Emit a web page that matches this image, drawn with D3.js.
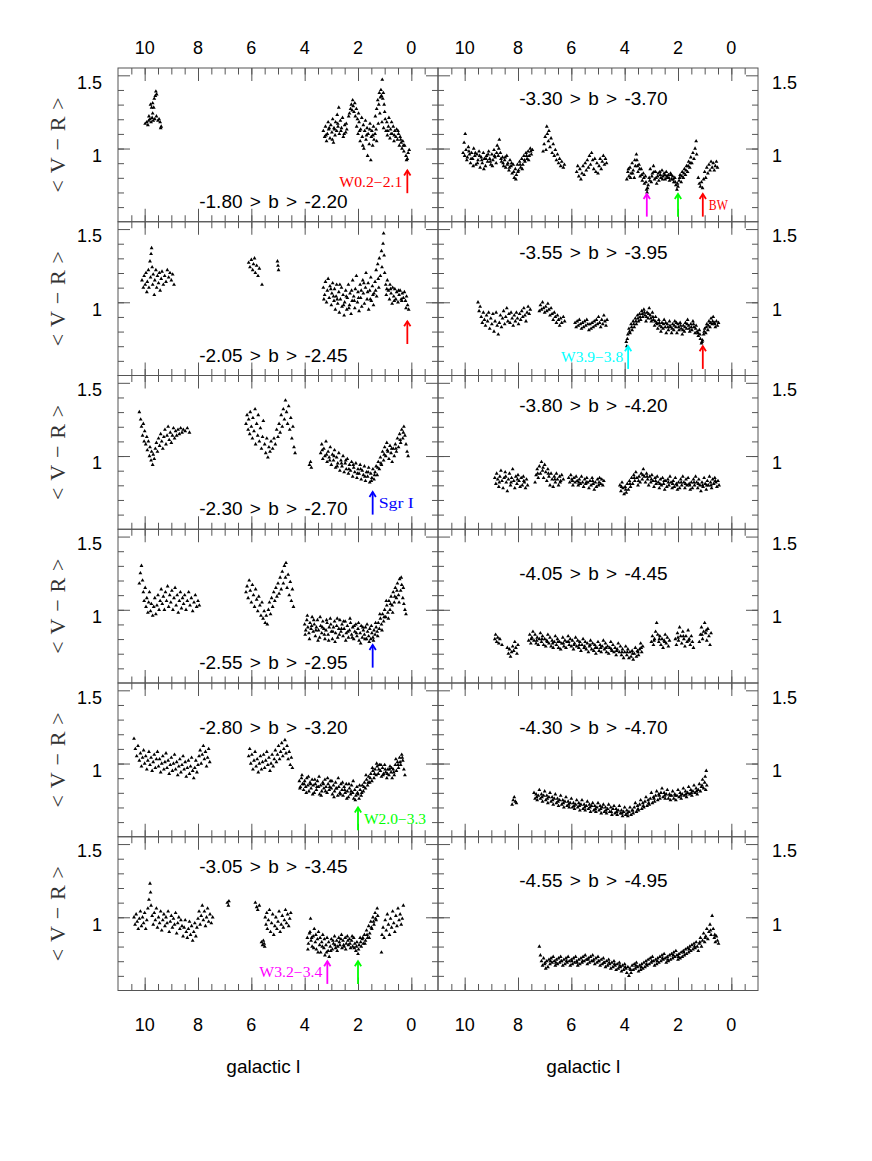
<!DOCTYPE html>
<html>
<head>
<meta charset="utf-8">
<script src="https://cdn.jsdelivr.net/npm/d3@7"></script>
<style>
  body { margin: 0; background: #fff; }
</style>
</head>
<body>
<div id="chart"></div>
<script>
// ---- data: <V-R> vs galactic l, one strip of latitude per panel ----
const titles = [
  '-1.80 > b > -2.20', '-2.05 > b > -2.45', '-2.30 > b > -2.70',
  '-2.55 > b > -2.95', '-2.80 > b > -3.20', '-3.05 > b > -3.45',
  '-3.30 > b > -3.70', '-3.55 > b > -3.95', '-3.80 > b > -4.20',
  '-4.05 > b > -4.45', '-4.30 > b > -4.70', '-4.55 > b > -4.95'
]
const xTickLabels = [10, 8, 6, 4, 2, 0]
const yTickLabels = [1.5, 1]

// -1.80 > b > -2.20
const p1 = [[9.98,1.17],[9.92,1.18],[9.88,1.16],[9.85,1.19],[9.80,1.20],[9.76,1.18],[9.72,1.21],[9.68,1.19],[9.62,1.20],[9.56,1.22],[9.50,1.19],[9.46,1.20],[9.42,1.18],[9.38,1.15],[9.40,1.14],[9.74,1.28],[9.78,1.30],[9.70,1.31],[9.66,1.28],[9.64,1.34],[9.60,1.36],[9.58,1.39],[9.55,1.37],[9.70,1.24],[9.84,1.22],
  [3.30,1.12],[3.25,1.08],[3.22,1.15],[3.18,1.05],[3.15,1.10],[3.12,1.18],[3.10,1.13],[3.05,1.07],[3.02,1.16],[2.98,1.11],[2.95,1.20],[2.92,1.04],[2.90,1.14],[2.86,1.09],[2.84,1.18],[2.80,1.12],[2.78,1.23],[2.75,1.15],[2.72,1.28],[2.70,1.10],[2.66,1.19],[2.62,1.14],[2.58,1.21],[2.55,1.08],[2.50,1.16],[2.46,1.11],[2.42,1.13],
  [2.35,1.22],[2.32,1.24],[2.28,1.27],[2.25,1.30],[2.22,1.26],[2.20,1.33],[2.18,1.29],[2.15,1.25],[2.12,1.31],[2.10,1.22],[2.06,1.27],[2.02,1.20],[1.98,1.24],
  [2.05,1.15],[2.00,1.10],[1.96,1.18],[1.92,1.05],[1.90,1.13],[1.86,1.21],[1.84,1.08],[1.80,1.16],[1.78,1.00],[1.75,1.12],[1.72,1.19],[1.70,1.06],[1.66,1.14],[1.64,0.95],[1.62,1.10],[1.58,1.03],[1.55,1.17],[1.52,0.92],[1.50,1.08],[1.48,1.12],[1.45,1.02],[1.42,1.15],[1.40,1.06],[1.36,1.10],[1.32,1.13],[1.30,1.05],
  [1.35,1.22],[1.30,1.27],[1.26,1.33],[1.22,1.30],[1.20,1.38],[1.16,1.35],[1.14,1.40],[1.12,1.36],[1.09,1.47],[1.07,1.34],[1.05,1.38],[1.02,1.30],[1.00,1.25],[0.98,1.20],[1.18,1.24],[1.10,1.18],[1.04,1.14],[1.24,1.17],
  [0.95,1.12],[0.92,1.18],[0.90,1.09],[0.86,1.15],[0.84,1.21],[0.80,1.07],[0.78,1.13],[0.74,1.18],[0.72,1.10],[0.68,1.15],[0.65,1.05],[0.62,1.12],[0.58,1.08],[0.55,1.13],[0.52,1.06],[0.48,1.10],[0.45,1.02],[0.42,1.08],[0.38,1.04],[0.35,1.00],[0.32,1.05],[0.28,0.98],[0.25,1.02],[0.20,0.95],[0.15,0.93],[0.12,0.97],[0.08,0.99],[0.18,0.92],
  [3.20,1.09],[3.08,1.14],[2.96,1.06],[2.88,1.13],[2.76,1.17],[2.64,1.12],[2.52,1.10],[2.44,1.17],[1.94,1.12],[1.82,1.02],[1.68,1.09],[1.56,1.13],[1.44,1.09],[0.88,1.12],[0.76,1.10],[0.64,1.09],[0.50,1.12],[0.40,1.06],[0.30,1.02]]

// -2.05 > b > -2.45
const p2 = [[10.10,1.15],[10.05,1.10],[10.02,1.18],[9.98,1.12],[9.95,1.20],[9.92,1.07],[9.90,1.14],[9.86,1.22],[9.84,1.10],[9.80,1.28],[9.78,1.17],[9.76,1.33],[9.74,1.37],[9.72,1.24],[9.70,1.12],[9.68,1.19],[9.64,1.05],[9.62,1.15],[9.58,1.22],[9.55,1.10],[9.52,1.18],[9.48,1.13],[9.45,1.20],[9.42,1.08],[9.38,1.16],[9.35,1.21],[9.30,1.12],[9.25,1.18],[9.20,1.14],[9.15,1.22],[9.10,1.17],[9.05,1.20],[9.00,1.15],[8.95,1.19],[8.90,1.12],
  [6.10,1.27],[6.05,1.24],[6.00,1.29],[5.95,1.22],[5.92,1.26],[5.88,1.30],[5.85,1.20],[5.80,1.25],[5.75,1.18],[5.70,1.23],[5.60,1.12],[5.02,1.28],[4.98,1.22],[5.00,1.25],
  [3.30,1.10],[3.25,1.05],[3.22,1.14],[3.18,1.00],[3.15,1.08],[3.12,1.16],[3.08,1.03],[3.05,1.11],[3.00,0.98],[2.98,1.06],[2.95,1.13],[2.90,1.01],[2.88,1.09],[2.85,0.95],[2.82,1.04],[2.80,1.12],[2.76,0.99],[2.72,1.07],[2.70,0.93],[2.66,1.02],[2.62,1.10],[2.60,0.97],[2.56,1.05],[2.52,0.91],[2.50,1.00],[2.46,1.08],[2.42,0.95],[2.40,1.03],[2.36,1.12],[2.32,0.98],[2.30,1.06],[2.26,0.92],[2.22,1.01],[2.20,1.15],[2.16,1.04],[2.12,0.96],[2.10,1.09],[2.06,1.18],[2.02,1.00],[2.00,1.07],[1.96,0.94],[1.92,1.12],[1.90,1.03],[1.86,0.97],[1.82,1.15],[1.80,1.06],[1.76,0.99],[1.72,1.10],[1.70,1.20],[1.66,1.02],[1.62,1.13],[1.60,0.95],[1.56,1.08],[1.52,1.17],[1.50,1.01],[1.46,1.11],[1.42,0.98],[1.40,1.06],[1.36,1.14],[1.32,1.22],[1.30,1.04],[1.26,1.26],[1.22,1.10],[1.20,1.30],[1.16,1.18],[1.12,1.35],[1.10,1.24],[1.06,1.40],[1.04,1.47],[1.02,1.32],[1.00,1.20],[0.96,1.12],[0.94,1.05],[0.90,1.15],[0.86,1.08],[0.82,1.02],[0.80,1.12],[0.76,1.06],[0.72,0.99],[0.70,1.10],[0.66,1.04],[0.62,1.09],[0.58,1.02],[0.55,1.07],[0.50,1.00],[0.46,1.05],[0.42,1.08],[0.38,1.02],[0.34,1.06],[0.30,1.03],[0.26,1.07],[0.22,1.01],[0.18,1.04],[0.14,0.98],[0.10,0.95],[0.20,0.96],
  [3.28,1.02],[3.02,1.09],[2.92,1.04],[2.78,1.02],[2.68,1.12],[2.54,0.98],[2.44,1.04],[2.34,0.96],[2.24,1.08],[2.14,1.01],[1.98,1.03],[1.88,1.08],[1.78,1.13],[1.64,1.07],[1.54,1.02],[1.44,1.05],[1.34,1.08],[1.24,1.16],[0.92,1.09],[0.78,1.09],[0.64,1.01],[0.48,1.08],[0.36,1.01]]

// -2.30 > b > -2.70
const p3 = [[10.20,1.30],[10.15,1.25],[10.12,1.20],[10.08,1.14],[10.05,1.22],[10.02,1.10],[10.00,1.17],[9.96,1.08],[9.92,1.13],[9.90,1.04],[9.86,1.10],[9.82,1.00],[9.80,1.06],[9.76,0.97],[9.74,1.03],[9.70,0.94],[9.68,1.01],[9.64,0.98],[9.60,1.05],[9.56,1.09],[9.52,1.03],[9.48,1.12],[9.44,1.07],[9.40,1.15],[9.36,1.10],[9.32,1.05],[9.28,1.13],[9.24,1.18],[9.20,1.08],[9.16,1.14],[9.12,1.20],[9.08,1.11],[9.04,1.16],[9.00,1.09],[8.96,1.14],[8.92,1.19],[8.88,1.12],[8.84,1.17],[8.80,1.14],[8.75,1.18],[8.70,1.15],[8.65,1.19],[8.60,1.16],[8.55,1.18],[8.48,1.17],[8.40,1.19],[8.32,1.16],
  [6.20,1.22],[6.16,1.28],[6.12,1.18],[6.10,1.25],[6.06,1.15],[6.04,1.30],[6.00,1.20],[5.96,1.12],[5.94,1.26],[5.90,1.17],[5.86,1.32],[5.84,1.08],[5.80,1.22],[5.76,1.14],[5.74,1.28],[5.70,1.10],[5.66,1.19],[5.62,1.05],[5.58,1.13],[5.55,1.24],[5.50,1.08],[5.46,1.02],[5.42,1.12],[5.38,0.99],[5.34,1.06],[5.30,1.03],[5.26,1.10],[5.20,1.05],[5.15,1.12],[5.10,1.08],[5.05,1.18],[5.00,1.13],[4.96,1.22],[4.92,1.16],[4.88,1.28],[4.84,1.20],[4.80,1.32],[4.76,1.25],[4.72,1.38],[4.68,1.30],[4.64,1.22],[4.60,1.34],[4.56,1.18],[4.52,1.26],[4.48,1.12],[4.44,1.20],[4.40,1.06],[4.36,1.02],
  [3.82,0.94],[3.78,0.96],[3.75,0.92],
  [3.40,1.02],[3.36,1.08],[3.32,0.98],[3.28,1.05],[3.24,1.00],[3.20,1.10],[3.16,0.96],[3.12,1.03],[3.08,0.99],[3.04,1.06],[3.00,0.94],[2.96,1.01],[2.92,0.97],[2.88,1.04],[2.84,0.92],[2.80,0.99],[2.76,0.95],[2.72,1.02],[2.68,0.90],[2.64,0.97],[2.60,0.93],[2.56,1.00],[2.52,0.89],[2.48,0.95],[2.44,0.91],[2.40,0.98],[2.36,0.88],[2.32,0.94],[2.28,0.90],[2.24,0.96],[2.20,0.86],[2.16,0.92],[2.12,0.89],[2.08,0.95],[2.04,0.85],[2.00,0.91],[1.96,0.88],[1.92,0.94],[1.88,0.84],[1.84,0.90],[1.80,0.87],[1.76,0.93],[1.72,0.83],[1.68,0.89],[1.64,0.86],[1.60,0.92],[1.56,0.82],[1.52,0.88],[1.48,0.85],[1.44,0.91],[1.40,0.84],[1.36,0.89],[1.32,0.93],[1.28,0.87],[1.24,0.96],[1.20,0.91],[1.16,0.99],[1.12,0.94],[1.08,1.03],[1.04,0.97],[1.00,1.06],[0.96,1.00],[0.92,1.09],[0.88,1.03],[0.84,0.98],[0.80,1.07],[0.76,1.02],[0.72,0.96],[0.68,1.05],[0.64,1.00],[0.60,1.08],[0.56,1.03],[0.52,1.12],[0.48,1.06],[0.44,1.15],[0.40,1.09],[0.36,1.18],[0.32,1.12],[0.28,1.20],[0.24,1.14],[0.20,1.08],[0.16,1.03],[0.12,1.00],
  [3.34,1.04],[3.18,1.01],[3.06,0.97],[2.90,1.00],[2.78,0.93],[2.62,0.95],[2.46,0.97],[2.34,0.91],[2.18,0.94],[2.02,0.88],[1.90,0.91],[1.74,0.86],[1.62,0.89],[1.50,0.83],[1.38,0.87],[1.26,0.92],[1.14,0.95],[1.02,1.01],[0.90,1.04],[0.74,1.05],[0.58,1.05],[0.42,1.11],[0.30,1.16]]

// -2.55 > b > -2.95
const p4 = [[10.20,1.18],[10.16,1.25],[10.12,1.30],[10.08,1.20],[10.05,1.12],[10.02,1.06],[9.98,1.15],[9.95,1.02],[9.92,1.08],[9.88,0.98],[9.85,1.05],[9.82,1.12],[9.78,0.99],[9.75,1.04],[9.70,0.96],[9.66,1.02],[9.62,1.08],[9.58,0.97],[9.54,1.03],[9.50,1.10],[9.46,1.00],[9.42,1.06],[9.38,1.14],[9.34,1.04],[9.30,1.09],[9.26,1.00],[9.22,1.12],[9.18,1.06],[9.14,1.16],[9.10,1.02],[9.06,1.10],[9.02,1.05],[8.98,1.13],[8.94,1.00],[8.90,1.08],[8.86,1.15],[8.82,1.03],[8.78,1.10],[8.74,0.98],[8.70,1.06],[8.66,1.12],[8.62,1.01],[8.58,1.08],[8.54,1.04],[8.50,1.10],[8.45,1.00],[8.40,1.06],[8.35,1.12],[8.30,1.03],[8.25,1.08],[8.20,0.99],[8.15,1.05],[8.10,1.10],[8.05,1.02],[8.00,1.06],[7.95,1.03],
  [6.20,1.12],[6.16,1.16],[6.12,1.08],[6.08,1.20],[6.04,1.13],[6.00,1.05],[5.96,1.17],[5.92,1.10],[5.88,1.02],[5.84,1.14],[5.80,1.07],[5.76,0.99],[5.72,1.09],[5.68,1.03],[5.64,0.96],[5.60,1.05],[5.56,0.94],[5.52,0.99],[5.48,0.91],[5.44,0.96],[5.40,0.90],[5.36,1.00],[5.32,1.05],[5.28,0.97],[5.24,1.08],[5.20,1.02],[5.16,1.12],[5.12,1.06],[5.08,1.15],[5.04,1.09],[5.00,1.18],[4.96,1.11],[4.92,1.22],[4.88,1.14],[4.84,1.26],[4.80,1.18],[4.76,1.30],[4.72,1.22],[4.70,1.32],[4.66,1.15],[4.62,1.24],[4.58,1.10],[4.54,1.19],[4.50,1.06],[4.46,1.14],[4.42,1.02],
  [4.00,0.90],[3.96,0.86],[3.92,0.93],[3.88,0.88],[3.84,0.84],[3.80,0.91],[3.76,0.87],[3.72,0.95],[3.68,0.85],[3.64,0.90],[3.60,0.82],[3.56,0.88],[3.52,0.93],[3.48,0.86],[3.44,0.81],[3.40,0.89],[3.36,0.84],[3.32,0.92],[3.28,0.87],[3.24,0.80],[3.20,0.86],[3.16,0.91],[3.12,0.83],[3.08,0.88],[3.04,0.94],[3.00,0.85],[2.96,0.80],[2.92,0.88],[2.88,0.92],[2.84,0.84],[2.80,0.89],[2.76,0.81],[2.72,0.87],[2.68,0.93],[2.64,0.85],[2.60,0.90],[2.56,0.82],[2.52,0.87],[2.48,0.92],[2.44,0.84],[2.40,0.89],[2.36,0.81],[2.32,0.86],[2.28,0.91],[2.24,0.83],[2.20,0.88],[2.16,0.80],[2.12,0.85],[2.08,0.90],[2.04,0.82],[2.00,0.87],[1.96,0.79],[1.92,0.84],[1.88,0.89],[1.84,0.81],[1.80,0.86],[1.76,0.83],[1.72,0.88],[1.68,0.80],[1.64,0.85],[1.60,0.82],[1.56,0.87],[1.52,0.80],[1.48,0.84],[1.44,0.81],[1.40,0.86],[1.36,0.83],[1.32,0.88],[1.28,0.85],[1.24,0.91],[1.20,0.87],[1.16,0.94],[1.12,0.90],[1.08,0.97],[1.04,0.92],[1.00,1.00],[0.96,0.95],[0.92,1.03],[0.88,0.98],[0.84,1.06],[0.80,1.00],[0.76,1.09],[0.72,1.03],[0.68,1.12],[0.64,1.05],[0.60,1.15],[0.56,1.08],[0.52,1.18],[0.48,1.10],[0.44,1.21],[0.40,1.13],[0.36,1.17],[0.32,1.08],[0.28,1.04],[0.24,1.00],[0.20,0.97],
  [3.98,0.83],[3.90,0.96],[3.82,0.80],[3.74,0.89],[3.66,0.93],[3.58,0.86],[3.50,0.79],[3.42,0.95],[3.34,0.88],[3.26,0.83],[3.18,0.93],[3.10,0.79],[3.02,0.90],[2.94,0.85],[2.86,0.78],[2.78,0.94],[2.70,0.83],[2.62,0.87],[2.54,0.92],[2.46,0.79],[2.38,0.85],[2.30,0.94],[2.22,0.81],[2.14,0.89],[2.06,0.84],[1.98,0.91],[1.90,0.77],[1.82,0.88],[1.74,0.80],[1.66,0.90],[1.58,0.78],[1.50,0.89],[1.42,0.79],[1.34,0.91],[1.26,0.82],[1.18,0.97],[1.10,0.86],[1.02,0.95],[0.94,1.06],[0.86,0.94],[0.78,1.04],[0.70,0.98],[0.62,1.09],[0.54,1.13],[0.46,1.05],[0.38,1.22],[0.30,1.15]]

// -2.80 > b > -3.20
const p5 = [[10.40,1.17],[10.35,1.10],[10.30,1.05],[10.25,1.12],[10.20,1.02],[10.16,1.07],[10.12,0.98],[10.08,1.04],[10.04,1.09],[10.00,1.00],[9.96,1.05],[9.92,0.96],[9.88,1.02],[9.84,1.08],[9.80,0.99],[9.76,1.04],[9.72,0.95],[9.68,1.01],[9.64,1.06],[9.60,0.97],[9.56,1.03],[9.52,1.08],[9.48,0.98],[9.44,1.03],[9.40,0.94],[9.36,1.00],[9.32,1.05],[9.28,0.96],[9.24,1.01],[9.20,1.07],[9.16,0.97],[9.12,1.02],[9.08,0.93],[9.04,0.99],[9.00,1.04],[8.96,0.95],[8.92,1.00],[8.88,1.06],[8.84,0.96],[8.80,1.01],[8.76,0.92],[8.72,0.98],[8.68,1.03],[8.64,0.94],[8.60,0.99],[8.56,1.05],[8.52,0.96],[8.48,1.01],[8.44,0.91],[8.40,0.97],[8.36,1.02],[8.32,0.93],[8.28,0.98],[8.24,1.04],[8.20,0.95],[8.16,0.90],[8.12,0.97],[8.08,1.02],[8.04,0.94],[8.00,0.99],[7.96,1.05],[7.92,1.09],[7.88,1.00],[7.84,1.06],[7.80,1.12],[7.76,1.03],[7.72,1.08],[7.68,0.98],[7.64,1.04],[7.60,1.10],[7.56,1.01],
  [6.10,1.05],[6.06,1.10],[6.02,1.00],[5.98,1.06],[5.94,0.96],[5.90,1.02],[5.86,1.08],[5.82,0.98],[5.78,1.03],[5.74,0.94],[5.70,1.00],[5.66,1.05],[5.62,0.96],[5.58,1.01],[5.54,1.06],[5.50,0.97],[5.46,1.02],[5.42,1.08],[5.38,0.99],[5.34,1.04],[5.30,0.95],[5.26,1.00],[5.22,1.06],[5.18,0.98],[5.14,1.03],[5.10,1.09],[5.06,1.01],[5.02,1.06],[4.98,1.12],[4.94,1.03],[4.90,1.08],[4.86,1.14],[4.82,1.05],[4.78,1.10],[4.74,1.16],[4.70,1.07],[4.66,1.12],[4.62,1.03],[4.58,1.08],[4.54,0.99],[4.50,1.04],[4.46,0.97],
  [4.20,0.88],[4.16,0.84],[4.12,0.90],[4.08,0.86],[4.04,0.82],[4.00,0.88],[3.96,0.84],[3.92,0.90],[3.88,0.85],[3.84,0.81],[3.80,0.87],[3.76,0.83],[3.72,0.89],[3.68,0.85],[3.64,0.80],[3.60,0.86],[3.56,0.82],[3.52,0.88],[3.48,0.84],[3.44,0.79],[3.40,0.85],[3.36,0.81],[3.32,0.87],[3.28,0.83],[3.24,0.89],[3.20,0.84],[3.16,0.80],[3.12,0.86],[3.08,0.82],[3.04,0.88],[3.00,0.83],[2.96,0.79],[2.92,0.85],[2.88,0.81],[2.84,0.87],[2.80,0.83],[2.76,0.78],[2.72,0.84],[2.68,0.80],[2.64,0.86],[2.60,0.82],[2.56,0.78],[2.52,0.84],[2.48,0.80],[2.44,0.86],[2.40,0.81],[2.36,0.77],[2.32,0.83],[2.28,0.79],[2.24,0.85],[2.20,0.80],[2.16,0.76],[2.12,0.82],[2.08,0.78],[2.04,0.84],[2.00,0.79],[1.96,0.76],[1.92,0.82],[1.88,0.78],[1.84,0.85],[1.80,0.81],[1.76,0.87],[1.72,0.83],[1.68,0.89],[1.64,0.85],[1.60,0.91],[1.56,0.87],[1.52,0.93],[1.48,0.88],[1.44,0.95],[1.40,0.90],[1.36,0.96],[1.32,0.92],[1.28,0.98],[1.24,0.93],[1.20,0.99],[1.16,0.95],[1.12,0.91],[1.08,0.97],[1.04,0.93],[1.00,0.99],[0.96,0.94],[0.92,0.90],[0.88,0.96],[0.84,0.92],[0.80,0.98],[0.76,0.94],[0.72,0.90],[0.68,0.96],[0.64,0.92],[0.60,0.99],[0.56,0.95],[0.52,1.01],[0.48,0.97],[0.44,1.04],[0.40,0.99],[0.36,1.06],[0.32,1.02],[0.28,0.96],[0.24,0.92],
  [4.18,0.83],[4.10,0.92],[4.02,0.86],[3.94,0.80],[3.86,0.91],[3.78,0.86],[3.70,0.79],[3.62,0.89],[3.54,0.84],[3.46,0.91],[3.38,0.78],[3.30,0.86],[3.22,0.81],[3.14,0.90],[3.06,0.84],[2.98,0.88],[2.90,0.77],[2.82,0.83],[2.74,0.90],[2.66,0.79],[2.58,0.87],[2.50,0.82],[2.42,0.76],[2.34,0.86],[2.26,0.81],[2.18,0.88],[2.10,0.75],[2.02,0.80],[1.94,0.85],[1.86,0.80],[1.78,0.84],[1.70,0.92],[1.62,0.87],[1.54,0.90],[1.46,0.97],[1.38,0.93],[1.30,1.00],[1.22,0.96],[1.14,0.99],[1.06,0.92],[0.98,0.96],[0.90,0.93],[0.82,0.96],[0.74,0.97],[0.66,0.94],[0.58,1.03],[0.50,0.99],[0.42,1.01],[0.34,1.04]]

// -3.05 > b > -3.45
const p6 = [[10.40,1.00],[10.36,0.95],[10.32,1.02],[10.28,0.97],[10.24,0.92],[10.20,0.99],[10.16,1.04],[10.12,0.94],[10.08,1.00],[10.04,0.96],[10.00,1.03],[9.96,0.92],[9.92,0.98],[9.88,1.06],[9.84,1.12],[9.80,1.23],[9.78,1.17],[9.76,1.08],[9.72,1.01],[9.68,0.95],[9.64,1.03],[9.60,0.98],[9.56,1.06],[9.52,0.93],[9.48,1.00],[9.44,0.96],[9.40,1.04],[9.36,0.91],[9.32,0.98],[9.28,1.02],[9.24,0.94],[9.20,1.00],[9.16,0.96],[9.12,1.04],[9.08,0.90],[9.04,0.97],[9.00,1.01],[8.96,0.93],[8.92,0.99],[8.88,0.95],[8.84,1.03],[8.80,0.89],[8.76,0.96],[8.72,1.00],[8.68,0.92],[8.64,0.98],[8.60,0.94],[8.56,0.87],[8.52,0.93],[8.48,0.98],[8.44,0.90],[8.40,0.86],[8.36,0.92],[8.32,0.97],[8.28,0.88],[8.24,0.94],[8.20,0.84],[8.16,0.90],[8.12,0.96],[8.08,0.87],[8.04,0.93],[8.00,0.99],[7.96,1.04],[7.92,0.95],[7.88,1.01],[7.84,1.08],[7.80,0.98],[7.76,1.04],[7.72,0.94],[7.68,1.00],[7.64,1.06],[7.60,0.97],[7.55,1.02],[7.50,0.96],[7.45,1.00],
  [6.90,1.10],[6.86,1.08],[6.84,1.11],
  [5.85,1.10],[5.80,1.07],[5.76,1.05],[5.70,1.08],[5.62,0.83],[5.58,0.81],[5.55,0.84],[5.52,0.82],[5.50,0.80],[5.48,1.00],[5.45,0.95],[5.42,1.03],[5.40,0.92],[5.36,0.98],[5.32,1.05],[5.28,0.90],[5.24,0.96],[5.20,1.02],[5.16,0.88],[5.12,0.94],[5.08,1.00],[5.04,0.92],[5.00,0.97],[4.96,1.04],[4.92,0.90],[4.88,0.95],[4.84,1.01],[4.80,0.93],[4.76,0.98],[4.72,1.05],[4.68,0.96],[4.64,1.02],[4.60,0.94],[4.56,0.99],[4.52,1.03],
  [3.90,0.86],[3.86,0.82],[3.82,0.89],[3.78,0.99],[3.76,0.84],[3.72,0.80],[3.68,0.87],[3.64,0.92],[3.60,0.83],[3.56,0.78],[3.52,0.85],[3.48,0.90],[3.44,0.81],[3.40,0.76],[3.36,0.83],[3.32,0.88],[3.28,0.79],[3.24,0.74],[3.20,0.81],[3.16,0.86],[3.12,0.77],[3.08,0.73],[3.04,0.80],[3.00,0.85],[2.96,0.78],[2.92,0.82],[2.88,0.87],[2.84,0.79],[2.80,0.84],[2.76,0.80],[2.72,0.86],[2.68,0.81],[2.64,0.85],[2.60,0.79],[2.56,0.84],[2.52,0.80],[2.48,0.86],[2.44,0.82],[2.40,0.87],[2.36,0.81],[2.32,0.85],[2.28,0.79],[2.24,0.84],[2.20,0.80],[2.16,0.86],[2.12,0.82],[2.08,0.77],[2.04,0.83],[2.00,0.75],[1.96,0.81],[1.92,0.86],[1.88,0.80],[1.84,0.85],[1.80,0.82],[1.76,0.88],[1.72,0.84],[1.68,0.91],[1.64,0.86],[1.60,0.94],[1.56,0.89],[1.52,0.97],[1.48,0.92],[1.44,1.00],[1.40,0.95],[1.36,1.03],[1.32,0.98],[1.28,1.06],[1.26,1.01],
  [1.12,0.76],[1.10,0.88],[1.06,0.93],[1.02,0.86],[0.98,0.98],[0.94,0.91],[0.90,1.02],[0.86,0.95],[0.82,0.88],[0.78,0.99],[0.74,0.93],[0.70,1.04],[0.66,0.96],[0.62,0.90],[0.58,1.01],[0.54,0.94],[0.50,1.06],[0.46,0.98],[0.42,1.02],[0.38,0.95],[0.34,0.99],[0.30,1.08],
  [3.88,0.78],[3.80,0.90],[3.74,0.86],[3.66,0.79],[3.58,0.88],[3.50,0.76],[3.42,0.86],[3.34,0.80],[3.26,0.85],[3.18,0.76],[3.10,0.83],[3.02,0.77],[2.94,0.84],[2.86,0.81],[2.78,0.77],[2.70,0.83],[2.62,0.88],[2.54,0.81],[2.46,0.78],[2.38,0.84],[2.30,0.82],[2.22,0.87],[2.14,0.79],[2.06,0.80],[1.98,0.78],[1.90,0.83],[1.82,0.86],[1.74,0.82],[1.66,0.88],[1.58,0.86],[1.50,0.93],[1.42,0.97],[1.34,0.99]]

// -3.30 > b > -3.70
const p7 = [[10.06,0.97],[10.02,1.04],[9.98,1.10],[9.95,0.99],[9.90,0.94],[9.86,1.01],[9.82,0.96],[9.78,0.90],[9.74,0.97],[9.70,0.93],[9.66,1.00],[9.62,0.95],[9.58,0.89],[9.54,0.96],[9.50,0.92],[9.46,0.98],[9.42,0.87],[9.38,0.94],[9.34,0.90],[9.30,0.97],[9.26,0.93],[9.22,0.88],[9.18,0.95],[9.14,0.91],[9.10,0.98],[9.06,0.93],[9.02,0.89],[8.98,0.96],[8.94,0.92],[8.90,0.99],[8.86,0.94],[8.82,0.90],[8.78,1.02],[8.74,0.95],[8.70,1.06],[8.66,0.97],[8.62,0.91],[8.58,0.94],[8.54,0.88],[8.50,0.92],[8.46,0.87],[8.42,0.95],[8.38,0.90],[8.34,0.85],[8.30,0.92],[8.26,0.88],[8.22,0.83],[8.18,0.89],[8.14,0.80],[8.10,0.86],[8.06,0.82],[8.02,0.89],[7.98,0.85],[7.94,0.91],[7.90,0.87],[7.86,0.93],[7.82,0.89],[7.78,0.95],[7.74,0.91],[7.70,0.97],[7.66,0.93],[7.62,0.98],[7.58,0.95],[7.54,1.00],[7.50,0.96],[7.46,0.99],
  [7.06,0.98],[7.02,1.03],[6.98,1.08],[6.95,0.99],[6.92,1.15],[6.90,1.10],[6.86,1.05],[6.84,1.12],[6.80,1.01],[6.76,1.07],[6.72,0.97],[6.68,1.03],[6.64,0.95],[6.60,0.99],[6.56,0.92],[6.52,0.96],[6.48,0.90],[6.44,0.93],[6.40,0.88],[6.36,0.91],[6.30,0.87],[6.26,0.89],
  [5.80,0.84],[5.76,0.88],[5.72,0.81],[5.68,0.86],[5.64,0.79],[5.60,0.83],[5.56,0.88],[5.52,0.82],[5.48,0.90],[5.44,0.85],[5.40,0.92],[5.36,0.87],[5.32,0.95],[5.28,0.89],[5.24,0.97],[5.20,0.92],[5.16,0.86],[5.12,0.93],[5.08,0.84],[5.04,0.90],[5.00,0.83],[4.96,0.88],[4.92,0.93],[4.88,0.86],[4.84,0.91],[4.80,0.95],[4.76,0.89],[4.72,0.93],[4.68,0.90],
  [3.92,0.79],[3.88,0.84],[3.84,0.81],[3.80,0.87],[3.76,0.83],[3.72,0.90],[3.68,0.85],[3.64,0.80],[3.60,0.88],[3.56,0.96],[3.54,0.92],[3.50,0.84],[3.46,0.89],[3.42,0.81],[3.38,0.86],[3.34,0.78],[3.30,0.83],[3.26,0.76],[3.22,0.81],[3.18,0.72],[3.16,0.70],[3.12,0.75],[3.08,0.80],[3.04,0.86],[3.00,0.77],[2.96,0.83],[2.92,0.88],[2.88,0.79],[2.84,0.84],[2.80,0.76],[2.76,0.81],[2.72,0.78],
  [2.68,0.84],[2.64,0.80],[2.60,0.85],[2.56,0.81],[2.52,0.83],[2.48,0.79],[2.44,0.84],[2.40,0.80],[2.36,0.82],[2.32,0.78],[2.28,0.83],[2.24,0.79],[2.20,0.81],[2.16,0.77],[2.12,0.80],[2.08,0.75],[2.04,0.72],[2.00,0.74],[1.96,0.78],[1.92,0.82],[1.88,0.77],[1.84,0.84],[1.80,0.80],[1.76,0.86],[1.72,0.82],[1.68,0.88],[1.64,0.84],[1.60,0.91],[1.56,0.87],[1.52,0.94],[1.48,0.90],[1.44,0.97],[1.40,0.93],[1.36,1.00],[1.32,1.05],[1.30,0.96],
  [1.24,0.80],[1.20,0.76],[1.16,0.74],[1.12,0.77],[1.08,0.73],[1.04,0.79],[1.00,0.84],[0.96,0.80],[0.92,0.87],[0.88,0.83],[0.84,0.89],[0.80,0.85],[0.76,0.91],[0.72,0.87],[0.68,0.90],[0.64,0.85],[0.60,0.88],[0.56,0.91],[0.52,0.87],
  [10.00,0.95],[9.92,0.92],[9.84,0.98],[9.76,0.93],[9.68,0.88],[9.60,0.97],[9.52,0.90],[9.44,0.95],[9.36,0.92],[9.28,0.86],[9.20,0.93],[9.12,0.96],[9.04,0.91],[8.96,0.88],[8.88,0.95],[8.80,0.97],[8.72,1.00],[8.64,0.93],[8.56,0.90],[8.48,0.94],[8.40,0.89],[8.32,0.87],[8.24,0.90],[8.16,0.84],[8.08,0.79],[8.00,0.84],[7.92,0.89],[7.84,0.86],[7.76,0.92],[7.68,0.95],[7.60,0.92],[7.52,0.98],
  [3.86,0.86],[3.78,0.80],[3.70,0.83],[3.62,0.92],[3.52,0.88],[3.44,0.86],[3.36,0.82],[3.28,0.80],[3.20,0.77],[3.14,0.73],[3.06,0.78],[2.98,0.81],[2.90,0.84],[2.82,0.80],[2.74,0.83],[2.66,0.82],[2.58,0.79],[2.50,0.82],[2.42,0.81],[2.34,0.80],[2.26,0.82],[2.18,0.79],[2.10,0.77],[2.02,0.76],[1.94,0.80],[1.86,0.81],[1.78,0.83],[1.70,0.85],[1.62,0.88],[1.54,0.90]]

// -3.55 > b > -3.95
const p8 = [[9.50,1.00],[9.46,0.94],[9.42,0.97],[9.38,0.90],[9.34,0.86],[9.30,0.93],[9.26,0.88],[9.22,0.84],[9.18,0.91],[9.14,0.87],[9.10,0.93],[9.06,0.82],[9.02,0.89],[8.98,0.85],[8.94,0.92],[8.90,0.80],[8.86,0.87],[8.82,0.93],[8.78,0.84],[8.74,0.78],[8.70,0.86],[8.66,0.91],[8.62,0.83],[8.58,0.89],[8.54,0.94],[8.50,0.85],[8.46,0.90],[8.42,0.96],[8.38,0.87],[8.34,0.92],[8.30,0.86],[8.26,0.93],[8.22,0.89],[8.18,0.84],[8.14,0.91],[8.10,0.87],[8.06,0.93],[8.02,0.89],[7.98,0.85],[7.94,0.92],[7.90,0.88],[7.86,0.94],[7.82,0.90],[7.78,0.96],[7.74,0.91],[7.70,0.87],[7.66,0.93],[7.62,0.97],[7.58,0.92],[7.54,0.95],
  [7.20,0.94],[7.16,0.98],[7.12,0.95],[7.08,1.00],[7.04,0.96],[7.00,0.93],[6.96,0.97],[6.92,0.94],[6.88,0.99],[6.84,0.95],[6.80,0.91],[6.76,0.96],[6.72,0.92],[6.68,0.88],[6.64,0.93],[6.60,0.90],[6.56,0.86],[6.52,0.91],[6.48,0.88],[6.44,0.84],[6.40,0.89],[6.36,0.86],[6.30,0.90],[6.25,0.87],
  [5.86,0.86],[5.82,0.83],[5.78,0.87],[5.74,0.84],[5.70,0.88],[5.66,0.85],[5.62,0.82],[5.58,0.86],[5.54,0.83],[5.50,0.87],[5.46,0.84],[5.42,0.88],[5.38,0.85],[5.34,0.81],[5.30,0.85],[5.26,0.82],[5.22,0.86],[5.18,0.83],[5.14,0.87],[5.10,0.84],[5.06,0.88],[5.02,0.85],[4.98,0.90],[4.94,0.86],[4.90,0.83],[4.86,0.88],[4.82,0.85],[4.78,0.91],[4.74,0.87],[4.70,0.84],[4.66,0.88],
  [3.94,0.73],[3.92,0.70],[3.90,0.75],[3.88,0.78],[3.84,0.82],[3.80,0.79],[3.76,0.85],[3.72,0.81],[3.68,0.87],[3.64,0.83],[3.60,0.89],[3.56,0.85],[3.52,0.91],[3.48,0.87],[3.44,0.92],[3.40,0.88],[3.36,0.94],[3.32,0.90],[3.28,0.95],[3.24,0.91],[3.20,0.87],[3.16,0.93],[3.12,0.89],[3.08,0.96],[3.04,0.91],[3.00,0.87],[2.96,0.93],[2.92,0.88],[2.88,0.84],[2.84,0.90],[2.80,0.86],[2.76,0.82],[2.72,0.88],[2.68,0.84],[2.64,0.80],[2.60,0.86],[2.56,0.82],[2.52,0.88],[2.48,0.83],[2.44,0.79],[2.40,0.85],[2.36,0.81],[2.32,0.87],[2.28,0.83],[2.24,0.79],[2.20,0.85],[2.16,0.81],[2.12,0.87],[2.08,0.83],[2.04,0.79],[2.00,0.85],[1.96,0.81],[1.92,0.86],[1.88,0.82],[1.84,0.78],[1.80,0.84],[1.76,0.80],[1.72,0.86],[1.68,0.82],[1.64,0.88],[1.60,0.84],[1.56,0.80],[1.52,0.85],[1.48,0.81],[1.44,0.87],[1.40,0.83],[1.36,0.79],[1.32,0.84],[1.28,0.80],[1.24,0.77],[1.20,0.81],[1.16,0.75],[1.12,0.72],[1.08,0.74],[1.04,0.78],[1.00,0.82],[0.96,0.79],[0.92,0.85],[0.88,0.81],[0.84,0.87],[0.80,0.83],[0.76,0.89],[0.72,0.85],[0.68,0.90],[0.64,0.86],[0.60,0.83],[0.56,0.87],[0.52,0.84],[0.48,0.86],
  [3.82,0.80],[3.74,0.83],[3.66,0.85],[3.58,0.87],[3.50,0.89],[3.42,0.90],[3.34,0.92],[3.26,0.93],[3.18,0.90],[3.10,0.92],[3.02,0.89],[2.94,0.90],[2.86,0.87],[2.78,0.85],[2.70,0.86],[2.62,0.83],[2.54,0.85],[2.46,0.86],[2.38,0.83],[2.30,0.84],[2.22,0.82],[2.14,0.84],[2.06,0.86],[1.98,0.83],[1.90,0.84],[1.82,0.81],[1.74,0.83],[1.66,0.85],[1.58,0.82],[1.50,0.83],[1.42,0.85],[1.34,0.82],[1.26,0.79],[1.18,0.78],[1.10,0.73],[1.02,0.80],[0.94,0.83],[0.86,0.84],[0.78,0.86],[0.70,0.87],[0.62,0.85]]

// -3.80 > b > -4.20
const p9 = [[8.87,0.85],[8.83,0.81],[8.80,0.88],[8.76,0.84],[8.72,0.79],[8.68,0.86],[8.64,0.90],[8.60,0.83],[8.56,0.78],[8.52,0.85],[8.48,0.89],[8.44,0.82],[8.40,0.76],[8.36,0.84],[8.32,0.88],[8.28,0.80],[8.24,0.85],[8.20,0.91],[8.16,0.83],[8.12,0.78],[8.08,0.86],[8.04,0.81],[8.00,0.87],[7.96,0.83],[7.92,0.79],[7.88,0.85],[7.84,0.80],[7.80,0.86],[7.76,0.82],[7.72,0.78],[7.68,0.84],[7.64,0.80],
  [7.36,0.82],[7.32,0.87],[7.28,0.91],[7.24,0.85],[7.20,0.93],[7.16,0.88],[7.12,0.96],[7.08,0.90],[7.04,0.85],[7.00,0.94],[6.96,0.89],[6.92,0.83],[6.88,0.91],[6.84,0.86],[6.80,0.80],[6.76,0.88],[6.72,0.84],[6.68,0.79],[6.64,0.86],[6.60,0.82],[6.56,0.88],[6.52,0.84],[6.48,0.80],[6.44,0.86],[6.40,0.83],[6.36,0.87],[6.30,0.84],
  [6.10,0.85],[6.06,0.82],[6.02,0.87],[5.98,0.84],[5.94,0.80],[5.90,0.85],[5.86,0.82],[5.82,0.86],[5.78,0.83],[5.74,0.80],[5.70,0.84],[5.66,0.81],[5.62,0.86],[5.58,0.82],[5.54,0.79],[5.50,0.84],[5.46,0.81],[5.42,0.85],[5.38,0.82],[5.34,0.78],[5.30,0.83],[5.26,0.80],[5.22,0.85],[5.18,0.81],[5.14,0.77],[5.10,0.82],[5.06,0.79],[5.02,0.84],[4.98,0.80],[4.94,0.85],[4.90,0.81],[4.86,0.84],[4.82,0.80],[4.78,0.83],
  [4.18,0.80],[4.14,0.76],[4.10,0.82],[4.06,0.78],[4.02,0.74],[3.98,0.79],[3.94,0.75],[3.90,0.81],[3.86,0.77],[3.82,0.83],[3.78,0.79],[3.74,0.85],[3.70,0.81],[3.66,0.87],[3.62,0.83],[3.58,0.89],[3.54,0.85],[3.50,0.80],[3.46,0.86],[3.42,0.82],[3.38,0.88],[3.34,0.84],[3.30,0.91],[3.26,0.86],[3.22,0.82],[3.18,0.88],[3.14,0.84],[3.10,0.80],[3.06,0.86],[3.02,0.82],[2.98,0.87],[2.94,0.83],[2.90,0.79],[2.86,0.85],[2.82,0.81],[2.78,0.86],[2.74,0.82],[2.70,0.78],[2.66,0.84],[2.62,0.80],[2.58,0.85],[2.54,0.81],[2.50,0.77],[2.46,0.83],[2.42,0.79],[2.38,0.84],[2.34,0.80],[2.30,0.86],[2.26,0.82],[2.22,0.78],[2.18,0.83],[2.14,0.79],[2.10,0.85],[2.06,0.81],[2.02,0.77],[1.98,0.82],[1.94,0.78],[1.90,0.84],[1.86,0.80],[1.82,0.86],[1.78,0.82],[1.74,0.78],[1.70,0.84],[1.66,0.80],[1.62,0.85],[1.58,0.81],[1.54,0.77],[1.50,0.82],[1.46,0.78],[1.42,0.84],[1.38,0.80],[1.34,0.86],[1.30,0.82],[1.26,0.78],[1.22,0.84],[1.18,0.80],[1.14,0.76],[1.10,0.82],[1.06,0.79],[1.02,0.85],[0.98,0.81],[0.94,0.77],[0.90,0.83],[0.86,0.80],[0.82,0.86],[0.78,0.82],[0.74,0.78],[0.70,0.84],[0.66,0.81],[0.62,0.85],[0.58,0.82],[0.54,0.79],[0.50,0.83],[0.46,0.80],
  [8.70,0.82],[8.46,0.86],[8.26,0.82],[8.02,0.84],[7.78,0.83],[7.26,0.88],[7.06,0.92],[6.86,0.88],[6.62,0.84],[6.42,0.82],[5.96,0.83],[5.72,0.82],[5.44,0.82],[5.20,0.83],[4.96,0.82],
  [4.12,0.79],[3.96,0.77],[3.80,0.81],[3.64,0.85],[3.48,0.83],[3.32,0.87],[3.16,0.86],[3.00,0.84],[2.84,0.83],[2.68,0.81],[2.52,0.83],[2.36,0.82],[2.20,0.81],[2.04,0.80],[1.88,0.82],[1.72,0.81],[1.56,0.80],[1.40,0.82],[1.24,0.81],[1.08,0.80],[0.92,0.80],[0.76,0.80],[0.60,0.83]]

// -4.05 > b > -4.45
const p10 = [[8.87,0.80],[8.84,0.83],[8.80,0.78],[8.76,0.81],[8.72,0.77],[8.68,0.80],[8.60,0.76],[8.40,0.74],[8.36,0.70],[8.32,0.73],[8.28,0.68],[8.24,0.71],[8.20,0.75],[8.16,0.72],[8.12,0.78],[8.08,0.74],[8.04,0.70],[8.00,0.76],
  [7.60,0.79],[7.56,0.83],[7.52,0.77],[7.48,0.81],[7.44,0.85],[7.40,0.79],[7.36,0.83],[7.32,0.77],[7.28,0.81],[7.24,0.76],[7.20,0.80],[7.16,0.84],[7.12,0.78],[7.08,0.82],[7.04,0.76],[7.00,0.80],[6.96,0.75],[6.92,0.79],[6.88,0.83],[6.84,0.77],[6.80,0.81],[6.76,0.75],[6.72,0.79],[6.68,0.74],[6.64,0.78],[6.60,0.82],[6.56,0.76],[6.52,0.80],[6.48,0.74],[6.44,0.78],[6.40,0.73],[6.36,0.77],[6.32,0.81],[6.28,0.75],[6.24,0.79],[6.20,0.74],[6.16,0.78],[6.12,0.82],[6.08,0.76],[6.04,0.80],[6.00,0.75],[5.96,0.79],[5.92,0.73],[5.88,0.77],[5.84,0.81],[5.80,0.75],[5.76,0.79],[5.72,0.74],[5.68,0.78],[5.64,0.72],[5.60,0.76],[5.56,0.80],[5.52,0.74],[5.48,0.78],[5.44,0.73],[5.40,0.77],[5.36,0.71],[5.32,0.75],[5.28,0.79],[5.24,0.73],[5.20,0.77],[5.16,0.72],[5.12,0.76],[5.08,0.70],[5.04,0.74],[5.00,0.78],[4.96,0.72],[4.92,0.76],[4.88,0.71],[4.84,0.75],[4.80,0.79],[4.76,0.73],[4.72,0.77],[4.68,0.71],[4.64,0.75],[4.60,0.70],[4.56,0.74],[4.52,0.78],[4.48,0.72],[4.44,0.76],[4.40,0.71],[4.36,0.74],[4.32,0.69],[4.28,0.73],[4.24,0.77],[4.20,0.71],[4.16,0.75],[4.12,0.69],[4.08,0.73],[4.04,0.67],[4.00,0.71],[3.96,0.75],[3.92,0.69],[3.88,0.73],[3.84,0.67],[3.80,0.71],[3.76,0.68],[3.72,0.72],[3.68,0.66],[3.64,0.70],[3.60,0.74],[3.56,0.68],[3.52,0.72],[3.48,0.69],[3.44,0.73],[3.40,0.77],[3.36,0.71],[3.32,0.75],
  [3.00,0.78],[2.96,0.82],[2.92,0.76],[2.88,0.80],[2.84,0.85],[2.80,0.91],[2.76,0.83],[2.72,0.78],[2.68,0.82],[2.64,0.76],[2.60,0.80],[2.56,0.74],[2.52,0.79],[2.48,0.83],[2.44,0.77],[2.40,0.81],[2.36,0.75],[2.32,0.79],
  [2.10,0.80],[2.06,0.76],[2.02,0.84],[1.98,0.79],[1.94,0.88],[1.90,0.82],[1.86,0.77],[1.82,0.85],[1.78,0.80],[1.74,0.75],[1.70,0.82],[1.66,0.78],[1.62,0.86],[1.58,0.80],[1.54,0.76],[1.50,0.82],[1.46,0.78],[1.42,0.74],
  [1.20,0.78],[1.16,0.83],[1.12,0.88],[1.08,0.80],[1.04,0.85],[1.00,0.91],[0.96,0.84],[0.92,0.79],[0.88,0.87],[0.84,0.82],[0.80,0.76],[0.76,0.84],
  [7.50,0.80],[7.30,0.79],[7.10,0.80],[6.90,0.78],[6.70,0.77],[6.50,0.78],[6.30,0.77],[6.10,0.78],[5.90,0.76],[5.70,0.76],[5.50,0.75],[5.30,0.76],[5.10,0.74],[4.90,0.74],[4.70,0.74],[4.50,0.73],[4.30,0.72],[4.10,0.71],[3.90,0.71],[3.70,0.70],[3.50,0.71],[3.38,0.74],
  [2.90,0.79],[2.70,0.80],[2.50,0.78],[2.00,0.81],[1.80,0.82],[1.60,0.79],[1.10,0.83],[0.94,0.86]]

// -4.30 > b > -4.70
const p11 = [[8.22,0.72],[8.18,0.75],[8.14,0.77],[8.10,0.74],[8.06,0.73],
  [7.40,0.80],[7.36,0.76],[7.32,0.79],[7.28,0.75],[7.24,0.78],[7.20,0.82],[7.16,0.76],[7.12,0.79],[7.08,0.74],[7.04,0.78],[7.00,0.81],[6.96,0.75],[6.92,0.78],[6.88,0.73],[6.84,0.77],[6.80,0.80],[6.76,0.74],[6.72,0.77],[6.68,0.72],[6.64,0.76],[6.60,0.79],[6.56,0.73],[6.52,0.76],[6.48,0.71],[6.44,0.75],[6.40,0.78],[6.36,0.72],[6.32,0.75],[6.28,0.70],[6.24,0.74],[6.20,0.77],[6.16,0.71],[6.12,0.74],[6.08,0.70],[6.04,0.73],[6.00,0.76],[5.96,0.70],[5.92,0.73],[5.88,0.69],[5.84,0.72],[5.80,0.75],[5.76,0.70],[5.72,0.73],[5.68,0.68],[5.64,0.72],[5.60,0.75],[5.56,0.69],[5.52,0.72],[5.48,0.68],[5.44,0.71],[5.40,0.74],[5.36,0.69],[5.32,0.72],[5.28,0.67],[5.24,0.71],[5.20,0.73],[5.16,0.68],[5.12,0.71],[5.08,0.67],[5.04,0.70],[5.00,0.73],[4.96,0.68],[4.92,0.71],[4.88,0.66],[4.84,0.70],[4.80,0.72],[4.76,0.67],[4.72,0.70],[4.68,0.66],[4.64,0.69],[4.60,0.72],[4.56,0.67],[4.52,0.70],[4.48,0.65],[4.44,0.69],[4.40,0.71],[4.36,0.66],[4.32,0.69],[4.28,0.65],[4.24,0.68],[4.20,0.71],[4.16,0.66],[4.12,0.68],[4.08,0.64],[4.04,0.67],[4.00,0.70],[3.96,0.65],[3.92,0.68],[3.88,0.64],[3.84,0.67],[3.80,0.70],[3.76,0.65],[3.72,0.68],[3.68,0.66],[3.64,0.70],[3.60,0.73],[3.56,0.67],[3.52,0.71],[3.48,0.68],[3.44,0.72],[3.40,0.75],[3.36,0.69],[3.32,0.73],[3.28,0.70],[3.24,0.74],[3.20,0.77],[3.16,0.71],[3.12,0.75],[3.08,0.72],[3.04,0.76],[3.00,0.80],[2.96,0.73],[2.92,0.77],[2.88,0.74],[2.84,0.78],[2.80,0.81],[2.76,0.75],[2.72,0.79],[2.68,0.76],[2.64,0.80],[2.60,0.83],[2.56,0.77],[2.52,0.80],[2.48,0.76],[2.44,0.79],[2.40,0.82],[2.36,0.76],[2.32,0.79],[2.28,0.75],[2.24,0.78],[2.20,0.81],[2.16,0.76],[2.12,0.79],[2.08,0.75],[2.04,0.78],[2.00,0.82],[1.96,0.77],[1.92,0.80],[1.88,0.76],[1.84,0.79],[1.80,0.83],[1.76,0.78],[1.72,0.81],[1.68,0.77],[1.64,0.80],[1.60,0.84],[1.56,0.79],[1.52,0.82],[1.48,0.78],[1.44,0.81],[1.40,0.85],[1.36,0.80],[1.32,0.83],[1.28,0.79],[1.24,0.82],[1.20,0.86],[1.16,0.81],[1.12,0.84],[1.08,0.89],[1.04,0.83],[1.00,0.87],[0.98,0.91],[0.96,0.82],[0.94,0.95],[0.92,0.85],
  [7.30,0.77],[7.10,0.77],[6.90,0.76],[6.70,0.75],[6.50,0.74],[6.30,0.73],[6.10,0.72],[5.90,0.71],[5.70,0.71],[5.50,0.70],[5.30,0.70],[5.10,0.69],[4.90,0.69],[4.70,0.68],[4.50,0.67],[4.30,0.67],[4.10,0.66],[3.90,0.66],[3.70,0.68],[3.50,0.69],[3.30,0.71],[3.10,0.73],[2.90,0.76],[2.70,0.78],[2.50,0.78],[2.30,0.78],[2.10,0.78],[1.90,0.78],[1.70,0.79],[1.50,0.80],[1.30,0.81],[1.10,0.85]]

// -4.55 > b > -4.95
const p12 = [[7.20,0.80],[7.16,0.74],[7.12,0.70],[7.08,0.67],[7.04,0.72],[7.00,0.68],[6.96,0.65],[6.92,0.70],[6.88,0.66],[6.84,0.71],[6.80,0.68],[6.76,0.72],[6.72,0.69],[6.68,0.73],[6.64,0.70],[6.60,0.67],[6.56,0.71],[6.52,0.68],[6.48,0.72],[6.44,0.69],[6.40,0.73],[6.36,0.70],[6.32,0.67],[6.28,0.71],[6.24,0.68],[6.20,0.72],[6.16,0.69],[6.12,0.73],[6.08,0.70],[6.04,0.67],[6.00,0.71],[5.96,0.68],[5.92,0.72],[5.88,0.69],[5.84,0.73],[5.80,0.70],[5.76,0.67],[5.72,0.71],[5.68,0.68],[5.64,0.72],[5.60,0.69],[5.56,0.73],[5.52,0.70],[5.48,0.74],[5.44,0.71],[5.40,0.68],[5.36,0.72],[5.32,0.69],[5.28,0.73],[5.24,0.70],[5.20,0.74],[5.16,0.71],[5.12,0.68],[5.08,0.72],[5.04,0.69],[5.00,0.73],[4.96,0.70],[4.92,0.67],[4.88,0.71],[4.84,0.68],[4.80,0.72],[4.76,0.69],[4.72,0.66],[4.68,0.70],[4.64,0.67],[4.60,0.71],[4.56,0.68],[4.52,0.65],[4.48,0.69],[4.44,0.66],[4.40,0.70],[4.36,0.67],[4.32,0.64],[4.28,0.68],[4.24,0.65],[4.20,0.69],[4.16,0.66],[4.12,0.63],[4.08,0.67],[4.04,0.64],[4.00,0.68],[3.96,0.65],[3.92,0.62],[3.88,0.66],[3.84,0.60],[3.80,0.65],[3.76,0.62],[3.72,0.67],[3.68,0.64],[3.64,0.68],[3.60,0.65],[3.56,0.69],[3.52,0.66],[3.48,0.63],[3.44,0.67],[3.40,0.64],[3.36,0.68],[3.32,0.65],[3.28,0.69],[3.24,0.66],[3.20,0.70],[3.16,0.67],[3.12,0.71],[3.08,0.68],[3.04,0.72],[3.00,0.69],[2.96,0.73],[2.92,0.70],[2.88,0.67],[2.84,0.71],[2.80,0.68],[2.76,0.72],[2.72,0.69],[2.68,0.73],[2.64,0.70],[2.60,0.74],[2.56,0.71],[2.52,0.75],[2.48,0.72],[2.44,0.69],[2.40,0.73],[2.36,0.70],[2.32,0.74],[2.28,0.71],[2.24,0.75],[2.20,0.72],[2.16,0.76],[2.12,0.73],[2.08,0.77],[2.04,0.74],[2.00,0.71],[1.96,0.75],[1.92,0.72],[1.88,0.76],[1.84,0.73],[1.80,0.77],[1.76,0.74],[1.72,0.78],[1.68,0.75],[1.64,0.79],[1.60,0.76],[1.56,0.80],[1.52,0.77],[1.48,0.81],[1.44,0.78],[1.40,0.82],[1.36,0.79],[1.32,0.83],[1.28,0.80],[1.24,0.77],[1.20,0.82],[1.16,0.86],[1.12,0.80],[1.08,0.84],[1.04,0.89],[1.00,0.83],[0.96,0.87],[0.92,0.92],[0.88,0.85],[0.84,0.90],[0.80,0.95],[0.76,0.88],[0.72,1.01],[0.68,0.92],[0.64,0.86],[0.60,0.83],[0.56,0.87],[0.52,0.84],[0.48,0.82],
  [6.98,0.69],[6.78,0.70],[6.58,0.69],[6.38,0.70],[6.18,0.70],[5.98,0.70],[5.78,0.69],[5.58,0.70],[5.38,0.71],[5.18,0.70],[4.98,0.70],[4.78,0.69],[4.58,0.69],[4.38,0.68],[4.18,0.67],[3.98,0.66],[3.78,0.64],[3.58,0.67],[3.38,0.66],[3.18,0.68],[2.98,0.70],[2.78,0.70],[2.58,0.72],[2.38,0.71],[2.18,0.74],[1.98,0.73],[1.78,0.76],[1.58,0.78],[1.38,0.80],[1.18,0.83],[0.98,0.86],[0.78,0.91],[0.62,0.88]]

const panels = [p1, p2, p3, p4, p5, p6, p7, p8, p9, p10, p11, p12]

// marked windows: panel index, longitude, colour-coded arrow, optional label
const markers = [
  { panel: 0, l: 0.15, tip: 0.85, color: '#ff0000', label: 'W0.2\u22122.1', side: 'left' },
  { panel: 1, l: 0.15, tip: 0.87, color: '#ff0000' },
  { panel: 2, l: 1.45, tip: 0.755, color: '#0000ff', label: 'Sgr I', side: 'right' },
  { panel: 3, l: 1.45, tip: 0.76, color: '#0000ff' },
  { panel: 4, l: 2.0, tip: 0.70, color: '#00ff00', label: 'W2.0\u22123.3', side: 'right' },
  { panel: 5, l: 3.15, tip: 0.70, color: '#ff00ff', label: 'W3.2\u22123.4', side: 'left' },
  { panel: 5, l: 2.0, tip: 0.70, color: '#00ff00' },
  { panel: 6, l: 3.17, tip: 0.69, color: '#ff00ff' },
  { panel: 6, l: 2.0, tip: 0.69, color: '#00ff00' },
  { panel: 6, l: 1.07, tip: 0.69, color: '#ff0000', label: 'BW', side: 'right' },
  { panel: 7, l: 3.87, tip: 0.70, color: '#00ffff', label: 'W3.9\u22123.8', side: 'left' },
  { panel: 7, l: 1.07, tip: 0.70, color: '#ff0000' }
]

// ---- layout ----
const margin = { top: 68, left: 118 }
const panelW = 320
const panelH = 153.75
const titleAt = [0.595, 0.595, 0.595, 0.595, 1.205, 1.30, 1.295, 1.295, 1.30, 1.205, 1.205, 1.205]
const labelWidth = { 'W0.2\u22122.1': 63, 'W2.0\u22123.3': 62, 'W3.2\u22123.4': 63, 'W3.9\u22123.8': 62, 'Sgr I': 35, 'BW': 19 }
const sans = '"Liberation Sans", Arial, Helvetica, sans-serif'
const serif = '"Liberation Serif", "Times New Roman", serif'
const frameColor = '#555'

const x = d3.scaleLinear().domain([11, -1]).range([0, panelW])
const y = d3.scaleLinear().domain([0.5, 1.55]).range([panelH, 0])

const xMinor = d3.range(-0.5, 11, 0.5)
const yMinor = d3.range(0.6, 1.5, 0.1)
const yMajor = [1, 1.5]

const tri = d3.symbol().type(d3.symbolTriangle).size(6.5)

const svg = d3
  .select('#chart')
  .append('svg')
  .attr('width', 872)
  .attr('height', 1161)

function tickSet(g, axis, values, size, transform) {
  g.append('g')
    .attr('transform', transform)
    .call(axis.tickValues(values).tickSize(size).tickFormat(''))
    .call(a => a.select('.domain').remove())
    .call(a => a.selectAll('line').attr('stroke', frameColor))
}

panels.forEach(function(pts, i) {
  const col = Math.floor(i / 6)
  const row = i % 6
  const g = svg
    .append('g')
    .attr('transform', 'translate(' + (margin.left + col * panelW) + ',' + (margin.top + row * panelH) + ')')

  // inward ticks on all four sides
  tickSet(g, d3.axisBottom(x), xMinor, -6.5, 'translate(0,' + panelH + ')')
  tickSet(g, d3.axisBottom(x), xTickLabels, -13, 'translate(0,' + panelH + ')')
  tickSet(g, d3.axisTop(x), xMinor, -6.5, 'translate(0,0)')
  tickSet(g, d3.axisTop(x), xTickLabels, -13, 'translate(0,0)')
  tickSet(g, d3.axisLeft(y), yMinor, -6, 'translate(0,0)')
  tickSet(g, d3.axisLeft(y), yMajor, -12, 'translate(0,0)')
  tickSet(g, d3.axisRight(y), yMinor, -6, 'translate(' + panelW + ',0)')
  tickSet(g, d3.axisRight(y), yMajor, -12, 'translate(' + panelW + ',0)')

  g.append('rect')
    .attr('x', 0)
    .attr('y', 0)
    .attr('width', panelW)
    .attr('height', panelH)
    .attr('fill', 'none')
    .attr('stroke', frameColor)

  if (row === 0) {
    g.selectAll('.toplab')
      .data(xTickLabels)
      .enter()
      .append('text')
      .text(d => d)
      .attr('x', d => x(d))
      .attr('y', -14)
      .attr('text-anchor', 'middle')
      .attr('font-family', sans)
      .attr('font-size', 18)
  }
  if (row === 5) {
    g.selectAll('.botlab')
      .data(xTickLabels)
      .enter()
      .append('text')
      .text(d => d)
      .attr('x', d => x(d))
      .attr('y', panelH + 40.5)
      .attr('text-anchor', 'middle')
      .attr('font-family', sans)
      .attr('font-size', 18)
    g.append('text')
      .text('galactic l')
      .attr('x', x(5.55))
      .attr('y', panelH + 82.5)
      .attr('text-anchor', 'middle')
      .attr('font-family', sans)
      .attr('font-size', 19)
  }

  g.selectAll('.ylab')
    .data(yTickLabels)
    .enter()
    .append('text')
    .text(d => d)
    .attr('x', col === 0 ? -16 : panelW + 14)
    .attr('y', d => y(d) + 13.4)
    .attr('text-anchor', col === 0 ? 'end' : 'start')
    .attr('font-family', sans)
    .attr('font-size', 18)

  if (col === 0) {
    g.append('text')
      .text('<V\u2212R>')
      .attr('transform', 'translate(-53,' + panelH / 2 + ') rotate(-90)')
      .attr('text-anchor', 'middle')
      .attr('font-family', serif)
      .attr('font-size', 22)
      .attr('fill', '#333')
      .attr('textLength', 95)
      .attr('lengthAdjust', 'spacing')
  }

  g.append('text')
    .text(titles[i])
    .attr('x', x(5.17))
    .attr('y', y(titleAt[i]))
    .attr('text-anchor', 'middle')
    .attr('font-family', sans)
    .attr('font-size', 19)
    .attr('word-spacing', 2)

  g.selectAll('.pt')
    .data(pts)
    .enter()
    .append('path')
    .attr('d', tri)
    .attr('transform', d => 'translate(' + x(d[0]) + ',' + y(d[1]) + ')')
    .attr('fill', 'black')

  markers.filter(m => m.panel === i).forEach(function(m) {
    const ax = x(m.l)
    const ay = y(m.tip)
    g.append('line')
      .attr('x1', ax)
      .attr('x2', ax)
      .attr('y1', ay)
      .attr('y2', y(m.tip - 0.155))
      .attr('stroke', m.color)
      .attr('stroke-width', 1.8)
    g.append('path')
      .attr('d', 'M' + (ax - 3.2) + ',' + (ay + 5) + 'L' + ax + ',' + ay + 'L' + (ax + 3.2) + ',' + (ay + 5))
      .attr('fill', 'none')
      .attr('stroke', m.color)
      .attr('stroke-width', 1.8)
    if (m.label) {
      g.append('text')
        .text(m.label)
        .attr('x', m.side === 'left' ? ax - 5 : ax + 6)
        .attr('y', y(m.tip - 0.11))
        .attr('text-anchor', m.side === 'left' ? 'end' : 'start')
        .attr('font-family', serif)
        .attr('font-size', 14)
        .attr('fill', m.color)
        .attr('textLength', labelWidth[m.label])
        .attr('lengthAdjust', 'spacingAndGlyphs')
    }
  })
})
</script>
</body>
</html>
